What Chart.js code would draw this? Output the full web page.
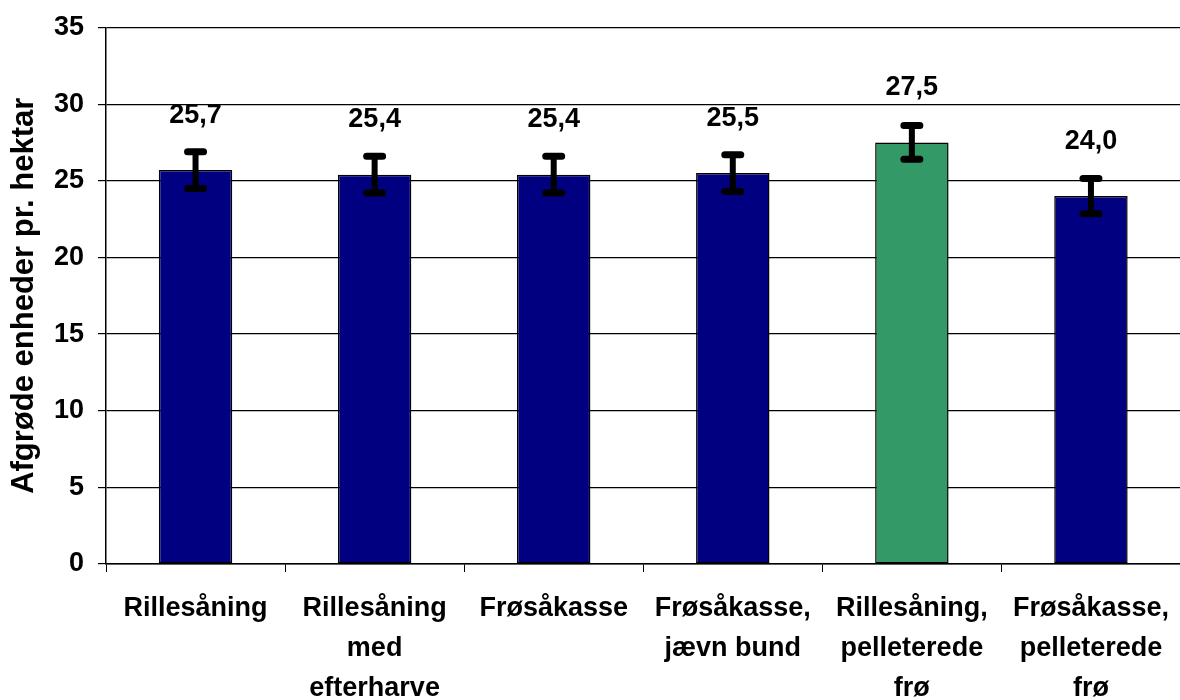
<!DOCTYPE html>
<html>
<head>
<meta charset="utf-8">
<script src="https://cdn.jsdelivr.net/npm/chart.js@4/dist/chart.umd.min.js"></script>
<style>
  html, body { margin: 0; padding: 0; background: #fff; overflow: hidden; }
  #wrap { width: 1186px; height: 700px; }
</style>
</head>
<body>
<div id="wrap"><canvas id="myChart" width="1186" height="700"></canvas></div>
<script>
const categories = [
  ['Rillesåning'],
  ['Rillesåning', 'med', 'efterharve'],
  ['Frøsåkasse'],
  ['Frøsåkasse,', 'jævn bund'],
  ['Rillesåning,', 'pelleterede', 'frø'],
  ['Frøsåkasse,', 'pelleterede', 'frø']
];
const values = [25.7, 25.4, 25.4, 25.5, 27.5, 24.0];
const errors = [1.2, 1.2, 1.2, 1.2, 1.1, 1.15];
const valueLabels = ['25,7', '25,4', '25,4', '25,5', '27,5', '24,0'];
const barColors = ['#000080', '#000080', '#000080', '#000080', '#339966', '#000080'];

const fontFamily = '"Liberation Sans", Arial, sans-serif';

// error bars + value labels
const extras = {
  id: 'extras',
  afterDatasetsDraw(chart) {
    const ctx = chart.ctx;
    const meta = chart.getDatasetMeta(0);
    const y = chart.scales.y;
    ctx.save();
    ctx.strokeStyle = '#000';
    ctx.lineCap = 'round';
    meta.data.forEach((bar, i) => {
      const yt = y.getPixelForValue(values[i] + errors[i]);
      const yb = y.getPixelForValue(values[i] - errors[i]);
      ctx.lineWidth = 6;
      ctx.beginPath();
      ctx.moveTo(bar.x, yt);
      ctx.lineTo(bar.x, yb);
      ctx.stroke();
      ctx.lineWidth = 7;
      ctx.beginPath();
      ctx.moveTo(bar.x - 8, yt);
      ctx.lineTo(bar.x + 8, yt);
      ctx.moveTo(bar.x - 8, yb);
      ctx.lineTo(bar.x + 8, yb);
      ctx.stroke();

      ctx.fillStyle = '#000';
      ctx.font = 'bold 27px ' + fontFamily;
      ctx.textAlign = 'center';
      ctx.textBaseline = 'middle';
      ctx.fillText(valueLabels[i], bar.x, bar.y - 55);
    });
    ctx.restore();
  }
};

new Chart('myChart', {
  type: 'bar',
  data: {
    labels: categories,
    datasets: [{
      data: values,
      backgroundColor: barColors,
      borderColor: '#000',
      borderWidth: 1.5,
      borderSkipped: false,
      barPercentage: 0.41,
      categoryPercentage: 1.0
    }]
  },
  options: {
    responsive: false,
    animation: false,
    layout: { padding: { top: 25, left: 0, right: 0, bottom: 0 } },
    plugins: {
      legend: { display: false },
      tooltip: { enabled: false }
    },
    scales: {
      x: {
        offset: true,
        grid: {
          offset: true,
          drawOnChartArea: false,
          drawTicks: true,
          tickLength: 8,
          color: '#000'
        },
        border: { color: '#000', width: 1.5 },
        ticks: {
          color: '#000',
          maxRotation: 0,
          autoSkip: false,
          padding: 17,
          font: { family: fontFamily, size: 27, weight: 'bold', lineHeight: 1.48 }
        },
        afterFit(scale) { scale.height = 136; }
      },
      y: {
        min: 0,
        max: 35,
        grid: {
          color: '#000',
          lineWidth: 1.2,
          tickLength: 8
        },
        border: { color: '#000', width: 1.5 },
        ticks: {
          stepSize: 5,
          color: '#000',
          padding: 14,
          font: { family: fontFamily, size: 27, weight: 'bold', lineHeight: 1 }
        },
        title: {
          display: true,
          text: 'Afgrøde enheder pr. hektar',
          color: '#000',
          padding: { top: 6, bottom: 10 },
          font: { family: fontFamily, size: 31, weight: 'bold' }
        },
        afterFit(scale) { scale.width = 106; }
      }
    }
  },
  plugins: [extras]
});
</script>
</body>
</html>
